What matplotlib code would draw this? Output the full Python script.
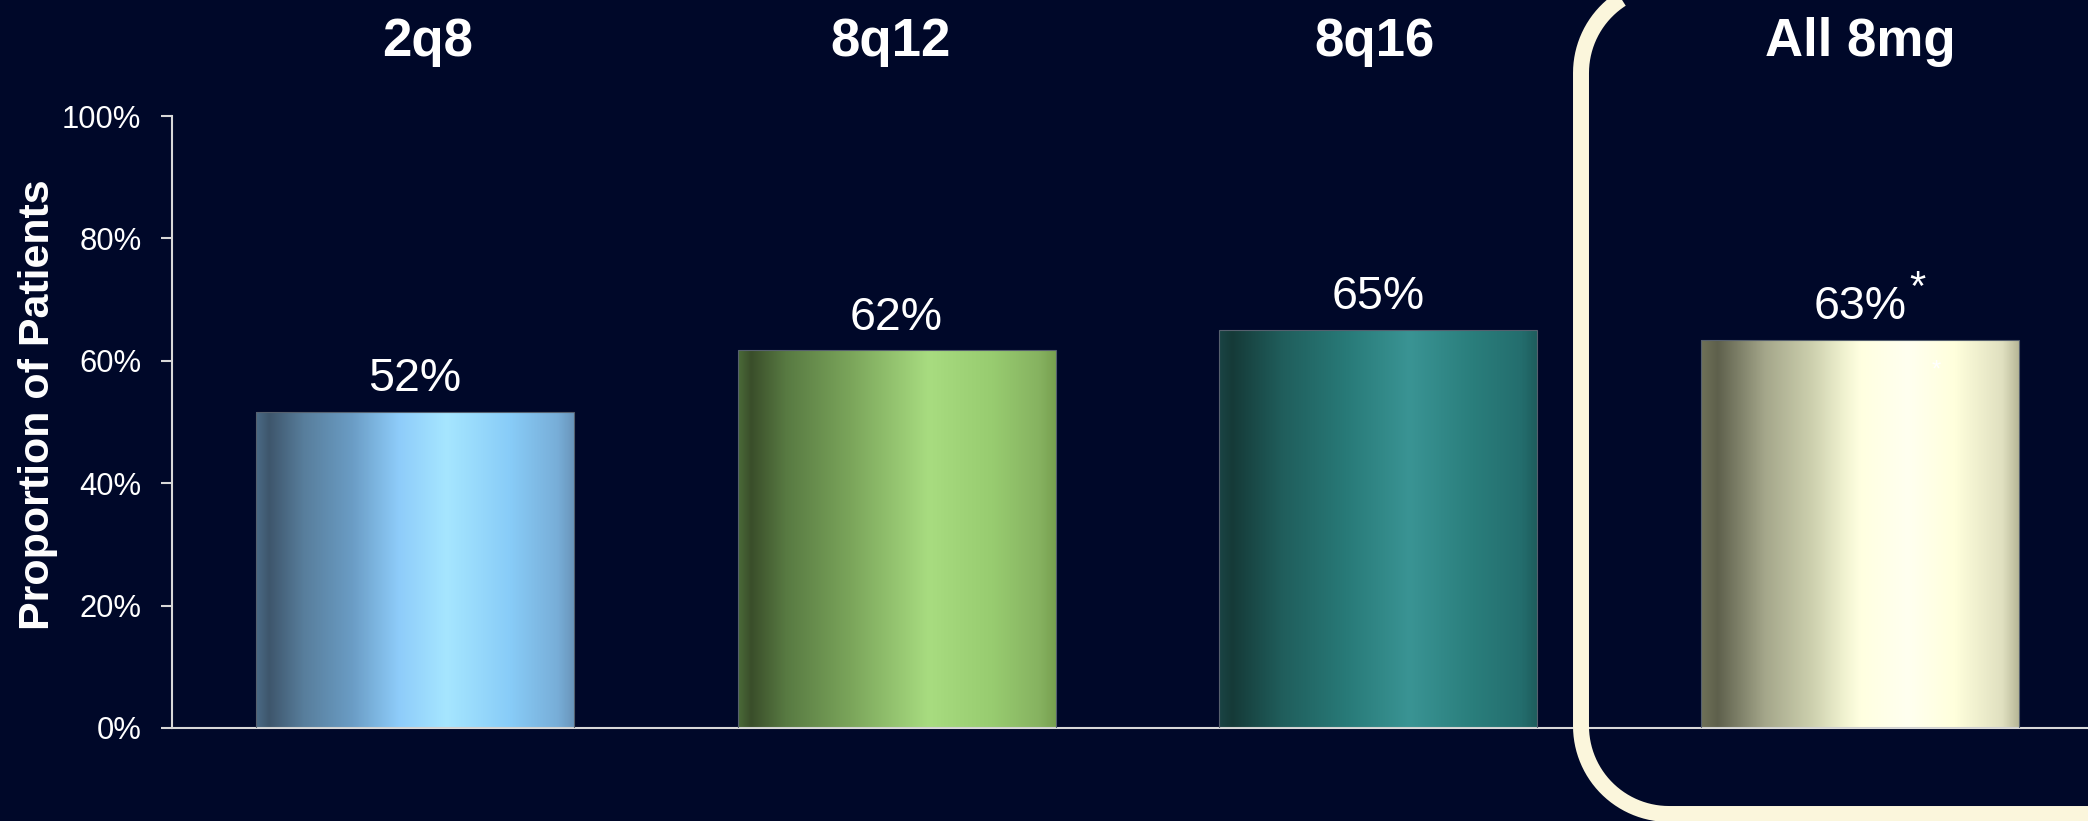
import numpy as np
import matplotlib.pyplot as plt
from matplotlib.colors import LinearSegmentedColormap
from matplotlib.patches import PathPatch
from matplotlib.path import Path

# data
groups = ['2q8', '8q12', '8q16', 'All 8mg']
values = [51.7, 61.7, 65.1, 63.4]
labels = ['52%', '62%', '65%', '63%']
yticks = [0, 20, 40, 60, 80, 100]
ytick_labels = ['0%', '20%', '40%', '60%', '80%', '100%']

# left-to-right shading of each bar (pos, colour)
shades = [
    [(0, '#4A6A85'), (0.04, '#3E566C'), (0.15, '#587E9C'), (0.3, '#6A9CC4'),
     (0.45, '#8ECCFA'), (0.6, '#A6E6FF'), (0.8, '#88CCF8'), (0.95, '#78AED8'), (1, '#6A96BC')],
    [(0, '#4A6A38'), (0.04, '#3A4E2A'), (0.15, '#587A42'), (0.35, '#7AA45A'),
     (0.6, '#A8DC80'), (0.8, '#98CC70'), (0.95, '#86B260'), (1, '#78A050')],
    [(0, '#1A4444'), (0.04, '#153A38'), (0.2, '#205E5C'), (0.4, '#287A78'),
     (0.6, '#3A9494'), (0.8, '#2A7E7C'), (0.95, '#246E6E'), (1, '#1E5E5E')],
    [(0, '#707258'), (0.05, '#5E604C'), (0.2, '#A4A68A'), (0.35, '#CDD0AE'),
     (0.45, '#F0F2D0'), (0.5, '#FFFFE0'), (0.65, '#FFFFF0'), (0.8, '#FFFFDC'),
     (0.95, '#E0E0C0'), (1, '#B8B898')],
]

bg = '#000829'
plt.rcParams['font.family'] = ['Liberation Sans', 'DejaVu Sans']

fig = plt.figure(figsize=(20.88, 8.21), dpi=100, facecolor=bg)
ax = fig.add_axes([0.0824, 0.1133, 0.9176, 0.7454])
ax.set_facecolor(bg)

x = np.arange(len(groups))
width = 0.66
title_shift = [13, -6, -4, 0]  # headers sit a little off the bar centres (pixels)
bars = ax.bar(x, values, width=width, color='none', edgecolor='#56606e', linewidth=0.8, zorder=3)
grad = np.linspace(0, 1, 512).reshape(1, -1)
for i, bar in enumerate(bars):
    cmap = LinearSegmentedColormap.from_list('b%d' % i, shades[i])
    im = ax.imshow(grad, cmap=cmap, aspect='auto', zorder=2,
                   extent=[x[i] - width / 2, x[i] + width / 2, 0, values[i]])
    im.set_clip_path(bar)
    ax.annotate(labels[i], (x[i], values[i]), xytext=(0, 15), textcoords='offset points',
                ha='center', va='baseline', color='white', fontsize=33.5)
    ax.annotate(groups[i], (x[i], 1.098), xycoords=ax.get_xaxis_transform(),
                xytext=(title_shift[i] * 0.72, 0), textcoords='offset points',
                ha='center', va='baseline', color='white', fontsize=38, fontweight='bold')

# superscript asterisk on the pooled group, plus the faint one inside the bar
ax.annotate('*', (x[3], values[3]), xytext=(41, 29), textcoords='offset points',
            ha='center', va='baseline', color='white', fontsize=30)
ax.annotate('*', (x[3], values[3]), xytext=(55, -26), textcoords='offset points',
            ha='center', va='baseline', color='#ffffff', fontsize=17, zorder=4)

ax.set_xlim(-0.504, 3.473)
ax.set_ylim(0, 100)
ax.set_yticks(yticks)
ax.set_yticklabels(ytick_labels)
ax.set_xticks([])
ax.tick_params(axis='y', colors='#d8d8d8', labelcolor='white', labelsize=22.3,
               length=8, width=1.5, pad=14)
for s in ['top', 'right']:
    ax.spines[s].set_visible(False)
for s in ['left', 'bottom']:
    ax.spines[s].set_color('#d8d8d8')
    ax.spines[s].set_linewidth(1.5)

fig.text(0.018, 0.507, 'Proportion of Patients', rotation=90, ha='center', va='center',
         color='white', fontsize=31, fontweight='bold')

# rounded highlight frame around "All 8mg", in pixels (y up), open to the right
L, B, T, r = 1581, 7, 836, 88
a1 = np.linspace(1.5 * np.pi, np.pi, 30)
a2 = np.linspace(np.pi, 0.5 * np.pi, 30)
pts = [(2300, B)]
pts += list(zip(L + r + r * np.cos(a1), B + r + r * np.sin(a1)))
pts += list(zip(L + r + r * np.cos(a2), T - r + r * np.sin(a2)))
pts += [(2300, T)]
frame = PathPatch(Path(pts), transform=None, facecolor='none', edgecolor='#FBF6DC',
                  linewidth=11.5, zorder=5)
fig.patches.append(frame)

fig.savefig('out.png', dpi=100, facecolor=bg)
